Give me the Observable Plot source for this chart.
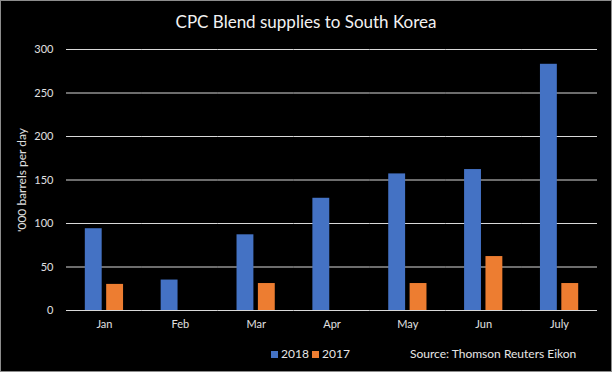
<!DOCTYPE html>
<html><head><meta charset="utf-8">
<script src="https://cdn.jsdelivr.net/npm/d3@7"></script>
<script src="https://cdn.jsdelivr.net/npm/@observablehq/plot@0.6"></script>
<style>
html,body{margin:0;padding:0;background:#000;}
#wrap{position:relative;width:612px;height:372px;background:#000;font-family:Lato,"Open Sans",sans-serif;overflow:hidden;color:#e6e6e6}
#title{height:36px;box-sizing:border-box;padding-top:12px;line-height:20px;font-size:17px;text-align:center;color:#f2f2f2}
#legend{position:relative;height:36px;font-size:12px;}
.item{position:absolute;top:11px;line-height:14px;display:flex;align-items:center;}
.sw{width:7px;height:7px;display:inline-block;margin-right:3px}
#border{position:absolute;left:0;top:0;width:612px;height:372px;box-sizing:border-box;border:1px solid #8c8c8c;pointer-events:none}
svg{display:block}
g[aria-label="y-axis label"] text{font-size:12px}
</style></head>
<body>
<div id="wrap">
<div id="title">CPC Blend supplies to South Korea</div>
<div id="chart"></div>
<div id="legend"></div>
<div id="border"></div>
</div>
<script>
const months = ["Jan","Feb","Mar","Apr","May","Jun","July"];
const series = ["2018","2017"];
const values2018 = [94, 35, 87, 129, 157, 162, 283];
const values2017 = [30, null, 31, null, 31, 62, 31];
const yTicks = [0, 50, 100, 150, 200, 250, 300];
const colors = ["#4472C4", "#ED7D31"];
const source = "Source: Thomson Reuters Eikon";

const data = [];
months.forEach((m, i) => {
  if (values2018[i] != null) data.push({month: m, series: "2018", value: values2018[i]});
  if (values2017[i] != null) data.push({month: m, series: "2017", value: values2017[i]});
});

const chart = Plot.plot({
  width: 612,
  height: 300,
  marginTop: 13,
  marginBottom: 26,
  marginLeft: 66,
  marginRight: 15,
  style: {background: "transparent", color: "#e0e0e0", fontFamily: "Lato, 'Open Sans', sans-serif", fontSize: "11px"},
  fx: {domain: months, padding: 0, round: false, label: null, tickSize: 0, tickPadding: 10},
  x: {domain: series, paddingInner: 0.21, paddingOuter: 0.88, round: false, axis: null},
  y: {domain: [0, 300], ticks: yTicks, tickSize: 0, tickPadding: 13, label: "'000 barrels per day", labelAnchor: "center", labelArrow: "none", labelOffset: 49},
  color: {domain: series, range: colors},
  marks: [
    Plot.gridY(yTicks, {stroke: "#d9d9d9", strokeOpacity: 1}),
    Plot.barY(data, {fx: "month", x: "series", y: "value", fill: "series"})
  ]
});
document.getElementById("chart").appendChild(chart);

const legend = document.getElementById("legend");
const lx = [271, 312];
series.forEach((s, i) => {
  const d = document.createElement("div");
  d.className = "item";
  d.style.left = lx[i] + "px";
  d.innerHTML = `<span class="sw" style="background:${colors[i]}"></span><span>${s}</span>`;
  legend.appendChild(d);
});
const src = document.createElement("div");
src.className = "item";
src.style.left = "410px";
src.textContent = source;
legend.appendChild(src);
</script>
</body></html>
